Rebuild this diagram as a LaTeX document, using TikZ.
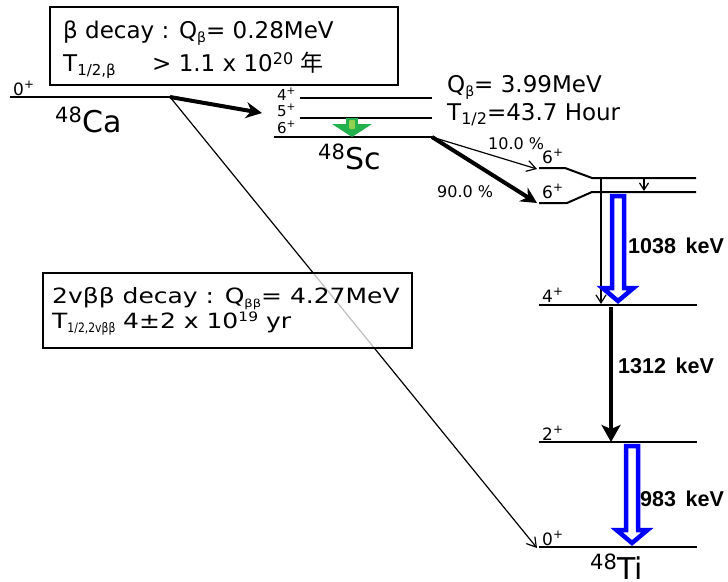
\documentclass[tikz,border=0pt]{standalone}
\usepackage{fontspec}
\setmainfont{DejaVu Sans}
\newfontfamily\cjk{Noto Sans CJK SC}
\newfontfamily\labelfont{Liberation Sans}
\usepackage{tikz}
\usepackage{xcolor}
\usetikzlibrary{arrows.meta, positioning, calc}
\definecolor{arrowgreen}{RGB}{34,177,76}
\definecolor{lightgreen}{RGB}{146,208,80}
% small lowered / raised text of a given size
\newcommand{\lowtxt}[2]{\raisebox{-4pt}{\fontsize{#1}{#1}\selectfont #2}}
\newcommand{\hightxt}[2]{\raisebox{7pt}{\fontsize{#1}{#1}\selectfont #2}}

\begin{document}
\begin{tikzpicture}[x=1pt, y=-1pt,
    every node/.style={inner sep=0pt, anchor=base west},
    txt/.style={font=\fontsize{23}{28}\selectfont},
    boxtxt/.style={font=\fontsize{21}{25}\selectfont},
    spin/.style={font=\fontsize{17}{20}\selectfont},
    scspin/.style={font=\fontsize{15}{17}\selectfont},
    nucl/.style={font=\fontsize{30}{34}\selectfont},
    pct/.style={font=\fontsize{16}{19}\selectfont},
    egam/.style={font=\labelfont\fontsize{21.5}{24}\selectfont\bfseries},
    level/.style={line width=2pt},
    infobox/.style={draw, line width=2pt},
    thinarrow/.style={line width=1.2pt, -{Straight Barb[length=9pt, width=11pt]}},
    fatarrow/.style={line width=4pt, -{Stealth[length=16pt, width=16pt]}},
    hollow/.style={draw=blue, line width=4.5pt, fill=white, line join=miter}]

    \useasboundingbox (0,0) rectangle (728,581);

    % end points of the connectors
    \coordinate (caR) at (170,97);
    \coordinate (scIn) at (262,113);
    \coordinate (scR) at (432,137);
    \coordinate (tiUp) at (537,169);
    \coordinate (tiLow) at (537,203);
    \coordinate (tiGnd) at (537,548);

    % 2vbb line goes under the lower box
    \draw[thinarrow] (caR) -- (tiGnd);

    % 48Ca
    \draw[level] (10,97) -- (caR);
    \node[spin] (ca0) at (13,95) {0\textsuperscript{+}};
    \node[nucl] (ca) at (55,132) {\textsuperscript{48}Ca};
    \draw[fatarrow] (caR) -- (scIn);

    % beta decay box
    \draw[infobox, fill=white] (50,7) rectangle (398,85);
    \node[txt] (betaQ) at (63,38) {β decay : Q\lowtxt{14}{β}= 0.28MeV};
    \node[txt] (betaT) at (63,71) {T\lowtxt{15}{1/2,β}};
    \node[txt] (betaTval) at (152,71) {> 1.1 x 10\hightxt{16}{20} {\cjk 年}};

    % 48Sc
    \draw[level] (300,98) -- (432,98);
    \draw[level] (300,118) -- (432,118);
    \draw[level] (274,137) -- (scR);
    \node[scspin] (sc4) at (277,100) {4\textsuperscript{+}};
    \node[scspin] (sc5) at (277,116) {5\textsuperscript{+}};
    \node[scspin] (sc6) at (277,133) {6\textsuperscript{+}};
    \node[nucl] (sc) at (318,169) {\textsuperscript{48}Sc};
    \node[txt] (scQ) at (447,92) {Q\lowtxt{14}{β}= 3.99MeV};
    \node[txt] (scT) at (447,120) {T\lowtxt{16}{1/2}=43.7 Hour};

    % green arrow
    \fill[arrowgreen] (346,118) rectangle (358,125);
    \fill[arrowgreen] (332,124) -- (372,124) -- (352,137) -- cycle;
    \fill[lightgreen, rounded corners=1pt] (349,120) rectangle (355,129);

    % beta branches
    \draw[thinarrow] (scR) -- (tiUp);
    \draw[fatarrow] (scR) -- (tiLow);
    \node[pct] (br10) at (488,149) {10.0 \%};
    \node[pct] (br90) at (437,197) {90.0 \%};

    % 48Ti levels
    \draw[level] (539,168) -- (565,168) -- (592,178) -- (696,178);
    \draw[level] (539,203) -- (567,203) -- (592,192) -- (696,192);
    \draw[level] (539,305) -- (697,305);
    \draw[level] (539,442) -- (697,442);
    \draw[level] (539,547) -- (697,547);
    \node[spin] (ti6a) at (542,163) {6\textsuperscript{+}};
    \node[spin] (ti6b) at (542,198) {6\textsuperscript{+}};
    \node[spin] (ti4) at (542,302) {4\textsuperscript{+}};
    \node[spin] (ti2) at (542,440) {2\textsuperscript{+}};
    \node[spin] (ti0) at (542,545) {0\textsuperscript{+}};
    \node[nucl] (ti) at (590,579) {\textsuperscript{48}Ti};

    % gamma transitions
    \draw[line width=1.2pt, -{Straight Barb[length=8pt, width=10pt]}] (601,179) -- (601,304);
    \draw[line width=1.2pt, -{Straight Barb[length=7pt, width=9pt]}] (644,179) -- (644,191);
    \draw[hollow] (612,196) -- (624,196) -- (624,288) -- (633.5,288) -- (618,301)
        -- (602.5,288) -- (612,288) -- cycle;
    \draw[line width=4pt, -{Stealth[length=17pt, width=19pt, inset=4pt]}] (611,307) -- (611,442);
    \draw[hollow] (626,446) -- (638,446) -- (638,530) -- (647.5,530) -- (632,543)
        -- (616.5,530) -- (626,530) -- cycle;
    \node[egam] (g1038) at (628,253) {1038\hspace{0.45em}keV};
    \node[egam] (g1312) at (618,373) {1312\hspace{0.45em}keV};
    \node[egam] (g983) at (640,506) {983\hspace{0.45em}keV};

    % 2vbb decay box
    \draw[infobox, fill=white, fill opacity=0.75] (43,273) rectangle (412,348);
    \node[boxtxt] (bbQ) at (52,303) {\scalebox{1.19}[1]{2vββ decay : Q\lowtxt{11}{ββ}= 4.27MeV}};
    \node[boxtxt] (bbT) at (52,328) {\scalebox{1.19}[1]{T\scalebox{0.7}[1]{\lowtxt{13}{1/2,2vββ}}}};
    \node[boxtxt] (bbTval) at (123,328) {\scalebox{1.19}[1]{4±2 x 10\hightxt{13}{19} yr}};
\end{tikzpicture}
\end{document}
